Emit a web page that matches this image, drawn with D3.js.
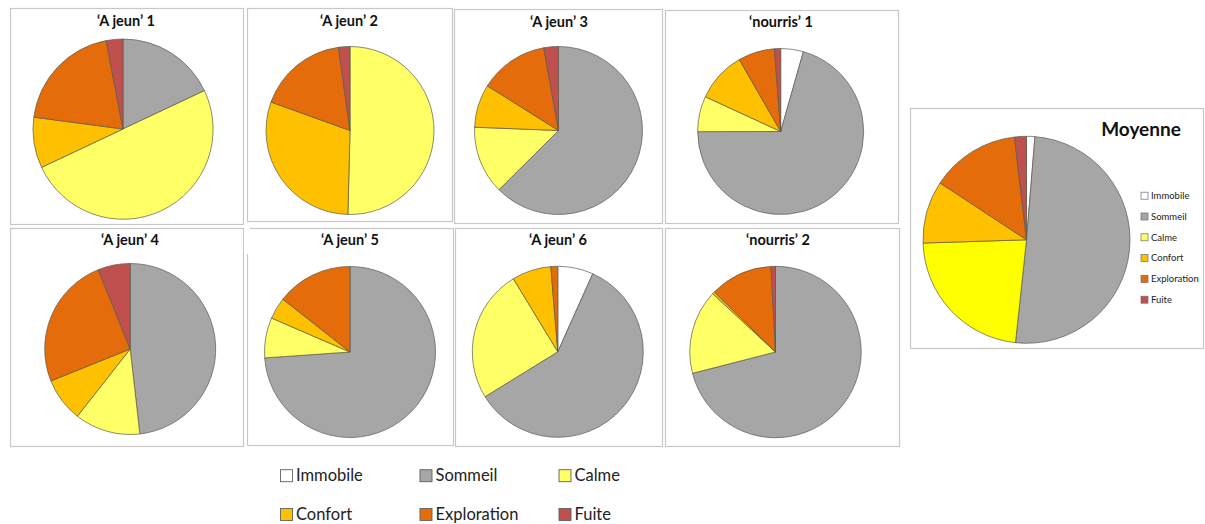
<!DOCTYPE html>
<html><head><meta charset="utf-8">
<script src="https://cdn.jsdelivr.net/npm/d3@7/dist/d3.min.js"></script>
<style>body{margin:0;background:#fff;} svg{display:block;}</style>
</head><body>
<svg id="chart" width="1205" height="524"></svg>
<script>
const categories = ["Immobile","Sommeil","Calme","Confort","Exploration","Fuite"];
const colors = ["#ffffff","#a6a6a6","#ffff66","#ffc000","#e46c0a","#c0504d"];
const moyenneColors = ["#ffffff","#a6a6a6","#ffff00","#ffc000","#e46c0a","#c0504d"];
const panelTitles = ["\u2018A jeun\u2019 1","\u2018A jeun\u2019 2","\u2018A jeun\u2019 3","\u2018nourris\u2019 1","\u2018A jeun\u2019 4","\u2018A jeun\u2019 5","\u2018A jeun\u2019 6","\u2018nourris\u2019 2","Moyenne"];
const aJeun1   = [0, 18.0, 50.0, 9.1, 19.9, 3.0];
const aJeun2   = [0, 0, 50.4, 30.1, 17.3, 2.2];
const aJeun3   = [0, 62.6, 13.1, 8.3, 13.3, 2.8];
const nourris1 = [4.4, 70.5, 6.9, 9.8, 7.1, 1.2];
const aJeun4   = [0, 48.2, 12.4, 8.3, 25.0, 6.1];
const aJeun5   = [0, 73.9, 7.6, 4.1, 14.4, 0];
const aJeun6   = [6.7, 59.5, 25.1, 7.4, 1.3, 0];
const nourris2 = [0, 71.0, 15.9, 0.45, 11.8, 0.85];
const moyenne  = [1.3, 50.4, 22.8, 9.75, 13.9, 1.85];
const series = [aJeun1, aJeun2, aJeun3, nourris1, aJeun4, aJeun5, aJeun6, nourris2, moyenne];

// layout: box [x0,y0,x1,y1], pie centre/radius, title position
const layout = [
  {box:[10,8,243,224],  cx:123, cy:129, r:90, tx:126, ty:26},
  {box:[247,8,452,221], cx:350, cy:130.5, r:84, tx:349, ty:26},
  {box:[454,9,662,223], cx:558.5, cy:130.5, r:84, tx:559, ty:27},
  {box:[665,10,898,223],cx:780.7, cy:131.5, r:83, tx:781, ty:27},
  {box:[10,228,243,446],cx:130.2, cy:349, r:85.5, tx:130, ty:245},
  {box:[247,228,453,445],cx:350, cy:352, r:85.5, tx:350, ty:245},
  {box:[455,228,662,446],cx:557.8, cy:351.8, r:85.5, tx:558, ty:245},
  {box:[665,228,899,446],cx:775.5, cy:352, r:85.7, tx:778, ty:245},
  {box:[910,108,1203,348],cx:1026.5, cy:239.8, r:103.5, tx:1141, ty:136}
];

const svg = d3.select("#chart");
const pie = d3.pie().sort(null).value(d => d);

series.forEach((vals, i) => {
  const L = layout[i];
  const g = svg.append("g");
  g.append("rect").attr("x", L.box[0]+0.5).attr("y", L.box[1]+0.5)
    .attr("width", L.box[2]-L.box[0]).attr("height", L.box[3]-L.box[1])
    .attr("fill", "#fff").attr("stroke", "#c8c8c8").attr("stroke-width", 1.2);
  const arc = d3.arc().innerRadius(0).outerRadius(L.r);
  const cols = i === 8 ? moyenneColors : colors;
  g.append("g").attr("transform", `translate(${L.cx},${L.cy})`)
    .selectAll("path").data(pie(vals).filter(d => d.value > 0)).join("path")
    .attr("d", arc)
    .attr("fill", d => cols[d.index])
    .attr("stroke", "#5a5a4a").attr("stroke-width", 0.7).attr("stroke-linejoin", "round");
  g.append("text").attr("x", L.tx).attr("y", L.ty)
    .attr("text-anchor", "middle")
    .attr("font-family", "Lato, 'Open Sans', sans-serif")
    .attr("font-weight", "bold")
    .attr("font-size", i === 8 ? 19 : 14.5)
    .attr("fill", "#111")
    .text(panelTitles[i]);
});
// gap in panel 'A jeun' 5 left border near the top (as in reference)
svg.append("rect").attr("x", 244).attr("y", 226).attr("width", 6).attr("height", 28).attr("fill", "#fff");

// legend inside Moyenne
const lg = svg.append("g");
categories.forEach((c, k) => {
  const y = 195.7 + k * 20.8;
  lg.append("rect").attr("x", 1141).attr("y", y - 3.5).attr("width", 7).attr("height", 7)
    .attr("fill", colors[k]).attr("stroke", "#6e6e6e").attr("stroke-width", 0.7);
  lg.append("text").attr("x", 1151).attr("y", y + 3.2)
    .attr("font-family", "Lato, 'Open Sans', sans-serif").attr("font-size", 9.5).attr("fill", "#222")
    .text(c);
});

// bottom legend
const bl = svg.append("g");
const colX = [280, 419.5, 558.5];
const rowY = [475.7, 514.5];
categories.forEach((c, k) => {
  const x = colX[k % 3], y = rowY[Math.floor(k / 3)];
  bl.append("rect").attr("x", x + 0.5).attr("y", y - 6).attr("width", 12).attr("height", 12)
    .attr("fill", colors[k]).attr("stroke", "#606060").attr("stroke-width", 0.9);
  bl.append("text").attr("x", x + 16).attr("y", y + 5.3)
    .attr("font-family", "Lato, 'Open Sans', sans-serif").attr("font-size", 16.5).attr("fill", "#222")
    .text(c);
});
</script>
</body></html>
